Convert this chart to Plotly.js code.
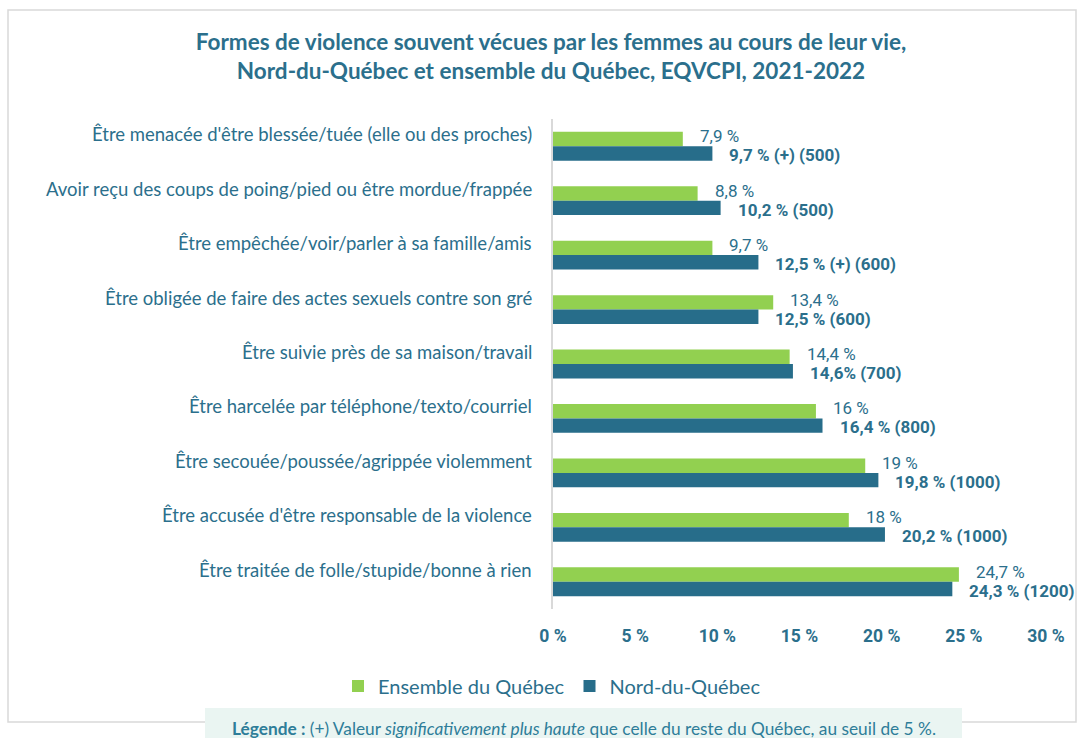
<!DOCTYPE html>
<html>
<head>
<meta charset="utf-8">
<script src="https://cdn.plot.ly/plotly-3.0.1.min.js"></script>
<style>
  html, body { margin: 0; padding: 0; background: #ffffff; }
  #chart { width: 1084px; height: 738px; }
</style>
</head>
<body>
<div id="chart"></div>
<script>
// ---- Data ----
const categories = [
  "Être menacée d'être blessée/tuée (elle ou des proches)",
  "Avoir reçu des coups de poing/pied ou être mordue/frappée",
  "Être empêchée/voir/parler à sa famille/amis",
  "Être obligée de faire des actes sexuels contre son gré",
  "Être suivie près de sa maison/travail",
  "Être harcelée par téléphone/texto/courriel",
  "Être secouée/poussée/agrippée violemment",
  "Être accusée d'être responsable de la violence",
  "Être traitée de folle/stupide/bonne à rien"
];
const quebecValues = [7.9, 8.8, 9.7, 13.4, 14.4, 16, 19, 18, 24.7];
const nordValues   = [9.7, 10.2, 12.5, 12.5, 14.6, 16.4, 19.8, 20.2, 24.3];
const quebecLabels = ["7,9 %", "8,8 %", "9,7 %", "13,4 %", "14,4 %", "16 %", "19 %", "18 %", "24,7 %"];
const nordLabels   = ["9,7 % (+) (500)", "10,2 % (500)", "12,5 % (+) (600)", "12,5 % (600)",
                      "14,6% (700)", "16,4 % (800)", "19,8 % (1000)", "20,2 % (1000)", "24,3 % (1200)"];
const xTickValues = [0, 5, 10, 15, 20, 25, 30];
const xTickLabels = ["0 %", "5 %", "10 %", "15 %", "20 %", "25 %", "30 %"];
const seriesNames = ["Ensemble du Québec", "Nord-du-Québec"];

// ---- Style ----
const GREEN = "#92d050";
const BLUE = "#276d8a";
const TEXT = "#2b6f8c";
const MAIN_FONT = "Lato, 'Open Sans', sans-serif";
const NARROW_FONT = "'Liberation Sans Narrow', 'Arial Narrow', Roboto, sans-serif";

// plot area pixel geometry (used for shapes placed in paper coords)
const L = 553, R = 38, T = 119, B = 129, W = 1084, H = 738;
const pw = W - L - R, ph = H - T - B;
const px2x = p => (p - L) / pw;
const py2y = p => (H - B - p) / ph;

const traces = [
  {
    type: "bar", orientation: "h", name: seriesNames[0],
    y: categories, x: quebecValues,
    marker: { color: GREEN }, hoverinfo: "x+y"
  },
  {
    type: "bar", orientation: "h", name: seriesNames[1],
    y: categories, x: nordValues,
    marker: { color: BLUE }, hoverinfo: "x+y"
  }
];

const annotations = [];
categories.forEach((c, i) => {
  // category label, aligned with the top bar
  annotations.push({
    xref: "paper", yref: "y", x: 0, y: c, xanchor: "right", yanchor: "middle",
    xshift: -19, yshift: 12, showarrow: false, text: c,
    font: { family: MAIN_FONT, size: 18.5, color: TEXT }
  });
  annotations.push({
    xref: "x", yref: "y", x: quebecValues[i], y: c, xanchor: "left", yanchor: "middle",
    xshift: 15, yshift: 10, showarrow: false, text: quebecLabels[i],
    font: { family: NARROW_FONT, size: 17, color: TEXT }
  });
  annotations.push({
    xref: "x", yref: "y", x: nordValues[i], y: c, xanchor: "left", yanchor: "middle",
    xshift: 15, yshift: -9, showarrow: false, text: "<b>" + nordLabels[i] + "</b>",
    font: { family: NARROW_FONT, size: 17, color: TEXT }
  });
});

annotations.push({
  xref: "paper", yref: "paper", x: px2x(584), y: py2y(728), xanchor: "center", yanchor: "middle",
  showarrow: false,
  text: "<b>Légende :</b> (+) Valeur <i>significativement plus haute</i> que celle du reste du Québec, au seuil de 5 %.",
  font: { family: MAIN_FONT, size: 17.3, color: "#2e7d99" }
});

const shapes = [
  { type: "rect", xref: "paper", yref: "paper", layer: "below",
    x0: px2x(8), x1: px2x(1076), y0: py2y(722), y1: py2y(10),
    line: { color: "#d9d9d9", width: 1.5 }, fillcolor: "rgba(0,0,0,0)" },
  { type: "rect", xref: "paper", yref: "paper", layer: "above",
    x0: px2x(205), x1: px2x(962), y0: py2y(745), y1: py2y(708),
    line: { width: 0 }, fillcolor: "#eaf5f2" }
];

const layout = {
  width: W, height: H,
  margin: { l: L, r: R, t: T, b: B, pad: 0 },
  paper_bgcolor: "#ffffff", plot_bgcolor: "#ffffff",
  font: { family: MAIN_FONT, color: TEXT },
  title: {
    text: "<b>Formes de violence souvent vécues par les femmes au cours de leur vie,<br>Nord-du-Québec et ensemble du Québec, EQVCPI, 2021-2022</b>",
    font: { family: MAIN_FONT, size: 22.5, color: TEXT },
    xref: "container", x: 551 / W, xanchor: "center",
    yref: "container", y: 1 - 50 / H, yanchor: "top"
  },
  barmode: "group", bargap: 0.47, bargroupgap: 0,
  xaxis: {
    range: [0, 30], tickvals: xTickValues, ticktext: xTickLabels,
    showgrid: false, zeroline: false, showline: false, ticks: "",
    ticklabelstandoff: 14,
    tickfont: { family: NARROW_FONT, size: 17.5, color: TEXT, weight: "bold" },
    fixedrange: true
  },
  yaxis: {
    type: "category", autorange: "reversed",
    showticklabels: false, showgrid: false, zeroline: false,
    showline: true, linecolor: "#d9d9d9", linewidth: 2, ticks: "",
    fixedrange: true
  },
  showlegend: true,
  legend: {
    orientation: "h", xref: "container", yref: "container",
    x: 552 / W, xanchor: "center", y: (H - 686) / H, yanchor: "middle",
    font: { family: MAIN_FONT, size: 20, color: TEXT },
    itemclick: false, itemdoubleclick: false
  },
  annotations: annotations,
  shapes: shapes
};

Plotly.newPlot("chart", traces, layout, { displayModeBar: false, staticPlot: true });
</script>
</body>
</html>
